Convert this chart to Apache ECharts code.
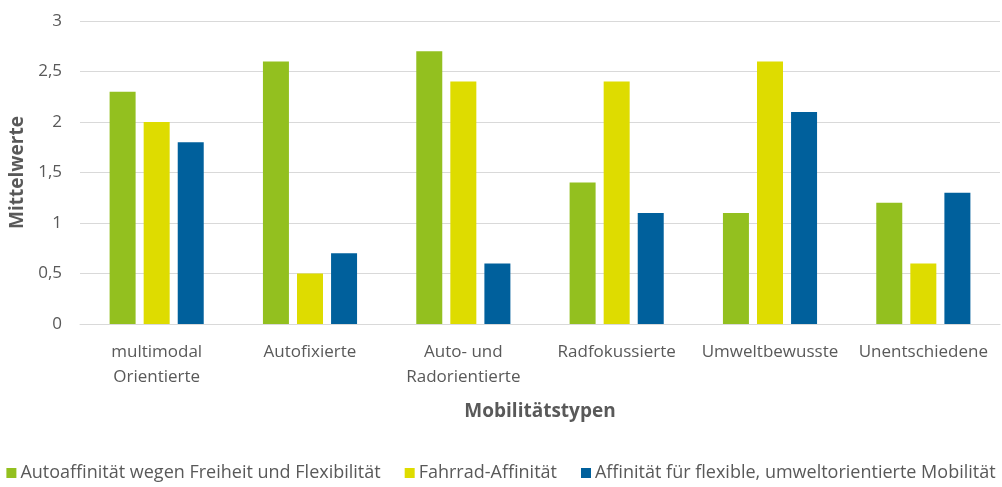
<!DOCTYPE html>
<html>
<head>
<meta charset="utf-8">
<script src="https://cdn.jsdelivr.net/npm/echarts@6/dist/echarts.min.js"></script>
<style>
  html, body { margin: 0; padding: 0; background: #fff; }
  #chart { width: 1002px; height: 487px; }
</style>
</head>
<body>
<div id="chart"></div>
<script>
var categories = ['multimodal\nOrientierte', 'Autofixierte', 'Auto- und\nRadorientierte', 'Radfokussierte', 'Umweltbewusste', 'Unentschiedene'];
var seriesNames = ['Autoaffinität wegen Freiheit und Flexibilität', 'Fahrrad-Affinität', 'Affinität für flexible, umweltorientierte Mobilität'];
var autoValues = [2.3, 2.6, 2.7, 1.4, 1.1, 1.2];
var radValues = [2.0, 0.5, 2.4, 2.4, 2.6, 0.6];
var umweltValues = [1.8, 0.7, 0.6, 1.1, 2.1, 1.3];
var colors = ['#93c01f', '#dedc00', '#00609c'];

var myChart = echarts.init(document.getElementById('chart'));
var fontFam = 'Open Sans';

var option = {
    animation: false,
    textStyle: { fontFamily: fontFam },
    color: colors,
    grid: { left: 80, right: 2, top: 21, bottom: 163, outerBoundsMode: 'none', containLabel: false },
    legend: {
        bottom: 0,
        left: 'center',
        itemWidth: 10,
        itemHeight: 10,
        itemGap: 24,
        itemStyle: { borderWidth: 0 },
        icon: 'rect',
        textStyle: { color: '#595959', fontSize: 18, fontFamily: fontFam, padding: [0, 0, 0, -1] },
        data: seriesNames
    },
    xAxis: {
        type: 'category',
        data: categories,
        name: 'Mobilitätstypen',
        nameLocation: 'middle',
        nameGap: 78,
        nameTextStyle: { color: '#595959', fontSize: 19, fontWeight: 'bold' },
        axisLine: { lineStyle: { color: '#d9d9d9' } },
        axisTick: { show: false },
        axisLabel: { color: '#595959', fontSize: 17, margin: 16, lineHeight: 25, interval: 0 }
    },
    yAxis: {
        type: 'value',
        min: 0,
        max: 3,
        interval: 0.5,
        name: 'Mittelwerte',
        nameLocation: 'middle',
        nameGap: 50,
        nameTextStyle: { color: '#595959', fontSize: 19, fontWeight: 'bold' },
        axisLine: { show: false },
        axisTick: { show: false },
        splitLine: { lineStyle: { color: '#d9d9d9' } },
        axisLabel: {
            color: '#595959', fontSize: 17, margin: 18,
            formatter: function (v) { return String(v).replace('.', ','); }
        }
    },
    series: [
        { name: seriesNames[0], type: 'bar', data: autoValues, barWidth: 26, barGap: '31%' },
        { name: seriesNames[1], type: 'bar', data: radValues, barWidth: 26, barGap: '31%' },
        { name: seriesNames[2], type: 'bar', data: umweltValues, barWidth: 26, barGap: '31%' }
    ]
};

myChart.setOption(option);
</script>
</body>
</html>
